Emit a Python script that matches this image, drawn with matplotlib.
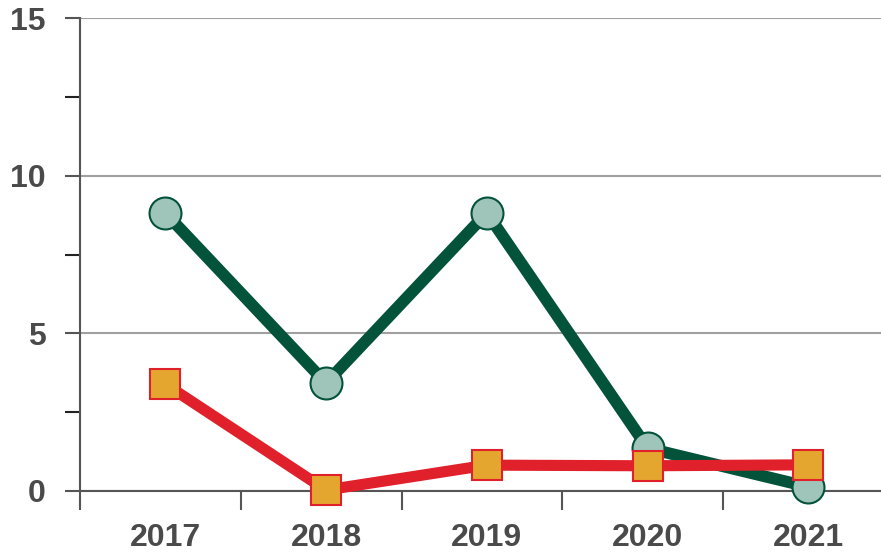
import matplotlib
matplotlib.use('Agg')
import matplotlib.pyplot as plt
from matplotlib.ticker import FixedLocator

# chart data
years = ['2017', '2018', '2019', '2020', '2021']
green_vals = [8.82, 3.42, 8.82, 1.36, 0.13]
red_vals = [3.39, 0.03, 0.82, 0.80, 0.83]

plt.rcParams['font.family'] = ['Liberation Sans', 'DejaVu Sans']

W, H = 881, 554
fig = plt.figure(figsize=(W / 100, H / 100), dpi=100)
ax = fig.add_axes([80 / W, (H - 491) / H, 804 / W, (491 - 18) / H])

x = list(range(len(years)))
xs = [i + 0.03 for i in x]

ax.plot(xs, green_vals, color='#03523a', lw=8.5, marker='o', markersize=23,
        markerfacecolor='#9fc5bb', markeredgecolor='#03523a', markeredgewidth=1.5,
        solid_joinstyle='round', zorder=6, clip_on=False)
ax.plot(xs, red_vals, color='#e0202a', lw=8, marker='s', markersize=21.5,
        markerfacecolor='#e5a630', markeredgecolor='#e0202a', markeredgewidth=1.5,
        zorder=7, clip_on=False)

ax.set_xlim(-0.5, 4.5)
ax.set_ylim(0, 15)

# y axis
ax.set_yticks([0, 5, 10, 15])
ax.yaxis.set_minor_locator(FixedLocator([2.5, 7.5, 12.5]))
ax.grid(axis='y', which='major', color='#a0a0a0', lw=1.5, zorder=0)
ax.tick_params(axis='y', which='major', length=11, width=1.5, color='#555555',
               labelsize=23, labelcolor='#4a4a4a', pad=14)
ax.tick_params(axis='y', which='minor', length=11, width=1.5, color='#222222')

# x axis: ticks at category boundaries, labels at centers
ax.set_xticks([i - 0.5 for i in range(len(years) + 1)])
ax.set_xticklabels([])
ax.set_xticks(xs, minor=True)
ax.set_xticklabels(years, minor=True)
ax.tick_params(axis='x', which='major', length=14, width=1.5, color='#555555')
ax.tick_params(axis='x', which='minor', length=0, labelsize=23,
               labelcolor='#4a4a4a', pad=23)

for lbl in ax.get_yticklabels() + ax.get_xticklabels(minor=True):
    lbl.set_fontweight('bold')

for side in ['top', 'right']:
    ax.spines[side].set_visible(False)
for side in ['left', 'bottom']:
    ax.spines[side].set_color('#555555')
    ax.spines[side].set_linewidth(1.5)
    ax.spines[side].set_zorder(5)

fig.savefig('out.png', dpi=100)
